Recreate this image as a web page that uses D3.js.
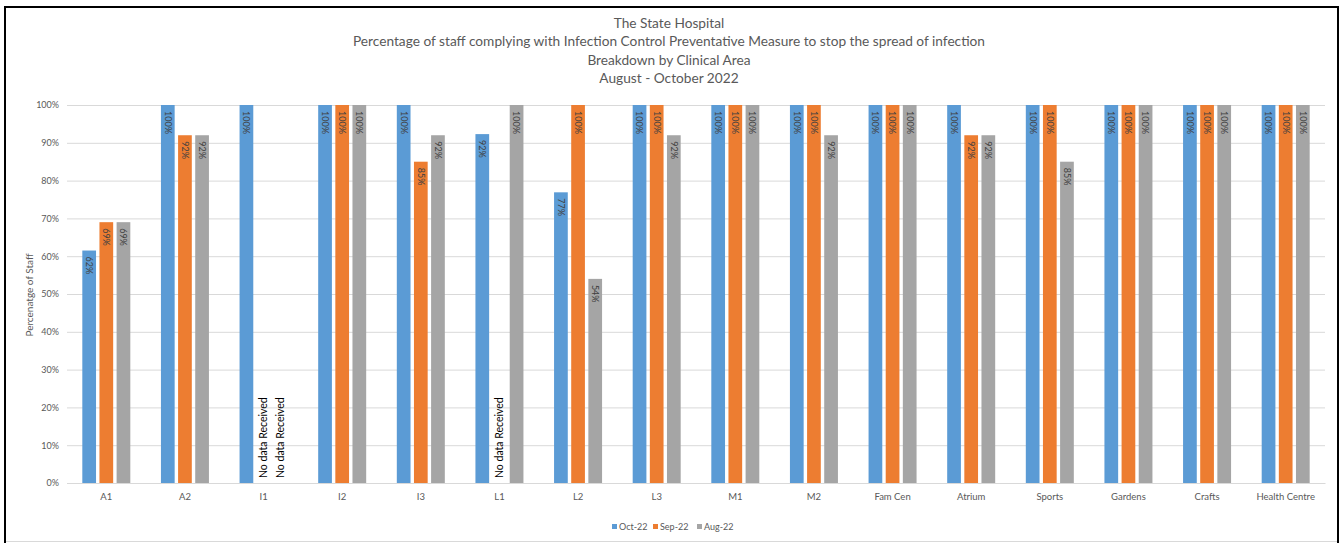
<!DOCTYPE html>
<html>
<head>
<meta charset="utf-8">
<script src="https://cdn.jsdelivr.net/npm/d3@7"></script>
<style>
  html, body { margin: 0; padding: 0; background: #fff; }
  svg { display: block; }
  text { font-family: Lato, "Liberation Sans", sans-serif; }
</style>
</head>
<body>
<svg id="chart" width="1342" height="543"></svg>
<script>
const titleLines = [
  "The State Hospital",
  "Percentage of staff complying with Infection Control Preventative Measure to stop the spread of infection",
  "Breakdown by Clinical Area",
  "August - October 2022"
];
const yAxisTitle = "Percenatge of Staff";
const categories = ["A1","A2","I1","I2","I3","L1","L2","L3","M1","M2","Fam Cen","Atrium","Sports","Gardens","Crafts","Health Centre"];
const seriesNames = ["Oct-22","Sep-22","Aug-22"];
const oct22 = [0.615, 1.00, 1.00, 1.00, 1.00, 0.923, 0.769, 1.00, 1.00, 1.00, 1.00, 1.00, 1.00, 1.00, 1.00, 1.00];
const sep22 = [0.69, 0.92, null, 1.00, 0.85, null, 1.00, 1.00, 1.00, 1.00, 1.00, 0.92, 1.00, 1.00, 1.00, 1.00];
const aug22 = [0.69, 0.92, null, 1.00, 0.92, 1.00, 0.54, 0.92, 1.00, 0.92, 1.00, 0.92, 0.85, 1.00, 1.00, 1.00];
const yTicks = [0, 0.1, 0.2, 0.3, 0.4, 0.5, 0.6, 0.7, 0.8, 0.9, 1.0];
const noDataText = "No data Received";
const colors = ["#5B9BD5", "#ED7D31", "#A5A5A5"];

const seriesValues = [oct22, sep22, aug22];
const svg = d3.select("#chart");

// outer frame
svg.append("rect").attr("x", 0).attr("y", 0).attr("width", 1342).attr("height", 543).attr("fill", "#fff");
svg.append("line").attr("x1", 5).attr("x2", 1338).attr("y1", 541.5).attr("y2", 541.5).attr("stroke", "#d9d9d9").attr("stroke-width", 1);
svg.append("path").attr("d", "M5,545 V7 H1338 V545").attr("fill", "none").attr("stroke", "#000").attr("stroke-width", 2);

const plot = { left: 67, right: 1325, top: 105, bottom: 483 };

const x0 = d3.scaleBand().domain(categories).range([plot.left, plot.right]).padding(0);
const x1 = d3.scaleBand().domain(seriesNames).range([-24, 24]).paddingInner(0.2);
const y = d3.scaleLinear().domain([0, 1]).range([plot.bottom, plot.top]);

// gridlines + y tick labels
const yAxis = d3.axisLeft(y).tickValues(yTicks).tickFormat(d3.format(".0%"))
  .tickSize(-(plot.right - plot.left)).tickPadding(8);
const gy = svg.append("g").attr("transform", `translate(${plot.left},0)`).call(yAxis);
gy.select(".domain").remove();
gy.selectAll(".tick line").attr("stroke", "#d9d9d9").attr("stroke-width", 1);
gy.selectAll(".tick text").attr("fill", "#595959").style("font-size", "9px")
  .style("font-family", "Lato, 'Liberation Sans', sans-serif");

// x axis labels
const xAxis = d3.axisBottom(x0).tickSize(0).tickPadding(10);
const gx = svg.append("g").attr("transform", `translate(0,${plot.bottom})`).call(xAxis);
gx.select(".domain").attr("stroke", "#d9d9d9");
gx.selectAll(".tick text").attr("fill", "#595959").style("font-size", "9.5px")
  .style("font-family", "Lato, 'Liberation Sans', sans-serif");

// bars
const rows = [];
categories.forEach((c, i) => {
  seriesNames.forEach((s, j) => {
    rows.push({ cat: c, series: s, idx: j, value: seriesValues[j][i] });
  });
});

const bars = svg.append("g");
bars.selectAll("rect").data(rows.filter(d => d.value != null)).join("rect")
  .attr("x", d => x0(d.cat) + x0.bandwidth() / 2 + x1(d.series))
  .attr("width", x1.bandwidth())
  .attr("y", d => y(d.value))
  .attr("height", d => y(0) - y(d.value))
  .attr("fill", d => colors[d.idx]);

// value labels (rotated, inside end)
const labels = svg.append("g");
labels.selectAll("text").data(rows.filter(d => d.value != null)).join("text")
  .attr("transform", d => {
    const cx = x0(d.cat) + x0.bandwidth() / 2 + x1(d.series) + x1.bandwidth() / 2;
    return `translate(${cx},${y(d.value) + 6}) rotate(90)`;
  })
  .attr("dy", "0.35em")
  .attr("text-anchor", "start")
  .attr("fill", "#404040")
  .style("font-size", "9px")
  .text(d => Math.round(d.value * 100) + "%");

// no data labels
labels.selectAll("text.nodata").data(rows.filter(d => d.value == null)).join("text")
  .attr("class", "nodata")
  .attr("transform", d => {
    const cx = x0(d.cat) + x0.bandwidth() / 2 + x1(d.series) + x1.bandwidth() / 2;
    return `translate(${cx},${y(0) - 5}) rotate(-90)`;
  })
  .attr("dy", "0.35em")
  .attr("text-anchor", "start")
  .attr("fill", "#000")
  .style("font-size", "10.5px")
  .text(noDataText);

// title
const title = svg.append("g").attr("text-anchor", "middle");
titleLines.forEach((t, i) => {
  title.append("text")
    .attr("x", 669).attr("y", 28 + i * 18.3)
    .attr("fill", "#595959")
    .style("font-size", "13.7px")
    .text(t);
});

// y axis title
svg.append("text")
  .attr("transform", `translate(33,295) rotate(-90)`)
  .attr("text-anchor", "middle")
  .attr("fill", "#595959")
  .style("font-size", "10px")
  .text(yAxisTitle);

// legend
const legendX = [612, 653, 697];
const legend = svg.append("g");
seriesNames.forEach((s, i) => {
  legend.append("rect").attr("x", legendX[i]).attr("y", 524).attr("width", 5).attr("height", 5).attr("fill", colors[i]);
  legend.append("text").attr("x", legendX[i] + 7).attr("y", 530).attr("fill", "#595959")
    .style("font-size", "9px").text(s);
});
</script>
</body>
</html>
